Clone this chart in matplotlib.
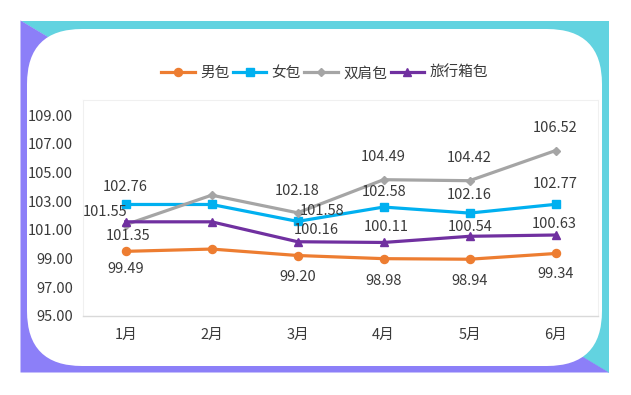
import matplotlib
matplotlib.use("Agg")
import matplotlib.pyplot as plt
from matplotlib.patches import Polygon, FancyBboxPatch

plt.rcParams['font.family'] = ['Noto Sans CJK SC', 'DejaVu Sans']

months = ['1月', '2月', '3月', '4月', '5月', '6月']
series_names = ['男包', '女包', '双肩包', '旅行箱包']
men_bag = [99.49, 99.65, 99.20, 98.98, 98.94, 99.34]
women_bag = [102.76, 102.76, 101.58, 102.58, 102.16, 102.77]
backpack = [101.35, 103.41, 102.18, 104.49, 104.42, 106.52]
luggage = [101.55, 101.55, 100.16, 100.11, 100.54, 100.63]
labeled = [True, False, True, True, True, True]
y_ticks = [95, 97, 99, 101, 103, 105, 107, 109]

colors = ['#ED7D31', '#00B0F0', '#A5A5A5', '#7030A0']
markers = ['o', 's', 'D', '^']
msizes = [5.8, 5.6, 4.2, 6.0]
text_color = '#3A3A3A'

# label offsets in pixels (dx, dy) per series per point
label_offsets = [
    [(0, -18), None, (0, -21), (0, -22), (0, -22), (0, -21)],
    [(0, 17), None, (24, 10), (0, 15), (0, 18), (0, 20)],
    [(2, -11), None, (0, 22), (0, 23), (0, 23), (0, 23)],
    [(-21, 10), None, (19, 12), (3, 15), (1, 9), (-1, 11)],
]

W, H = 631, 395
fig = plt.figure(figsize=(W / 100, H / 100), dpi=100)

# background decoration
bg = fig.add_axes([0, 0, 1, 1], zorder=-5)
bg.set_xlim(0, W)
bg.set_ylim(H, 0)
bg.axis('off')
x0, y0, x1, y1 = 20.5, 20.5, 609, 372.5
bg.add_patch(Polygon([(x0, y0), (x1, y0), (x1, y1)], closed=True,
                     facecolor='#62D3E0', edgecolor='none'))
bg.add_patch(Polygon([(x0, y0), (x1, y1), (x0, y1)], closed=True,
                     facecolor='#8C7FF8', edgecolor='none'))
bg.add_patch(FancyBboxPatch((27 + 55, 29 + 55), 602 - 27 - 110, 366 - 29 - 110,
                            boxstyle='round,pad=55',
                            facecolor='white', edgecolor='none'))

L, R, T, B = 82.7, 598.5, 100, 315.7
ax = fig.add_axes([L / W, 1 - B / H, (R - L) / W, (B - T) / H])
ax.set_facecolor('white')

x = list(range(len(months)))
all_series = [men_bag, women_bag, backpack, luggage]
handles = []
for i, vals in enumerate(all_series):
    ln, = ax.plot(x, vals, color=colors[i], lw=2.3, marker=markers[i],
                  markersize=msizes[i], markerfacecolor=colors[i],
                  markeredgecolor=colors[i], label=series_names[i], zorder=3,
                  solid_joinstyle='round')
    handles.append(ln)
    for j, v in enumerate(vals):
        off = label_offsets[i][j]
        if not labeled[j] or off is None:
            continue
        ax.annotate(f'{v:.2f}', (j, v), xytext=off, textcoords='offset pixels',
                    ha='center', va='center', fontsize=10.5, color=text_color,
                    zorder=5)

ax.set_xlim(-0.5, 5.5)
ax.set_ylim(95, 110.05)
ax.set_xticks(x)
ax.set_xticklabels(months)
ax.set_yticks(y_ticks)
ax.set_yticklabels([f'{t:.2f}' for t in y_ticks])
ax.tick_params(axis='both', length=0, labelsize=10.5, labelcolor=text_color)
ax.tick_params(axis='x', pad=9)
ax.tick_params(axis='y', pad=7)
for s in ['left', 'top', 'right']:
    ax.spines[s].set_color('#F0F0F0')
    ax.spines[s].set_linewidth(0.8)
ax.spines['bottom'].set_color('#D9D9D9')
ax.spines['bottom'].set_linewidth(1.0)

fig.legend(handles=handles, labels=series_names, loc='center',
           bbox_to_anchor=(324.5 / W, 1 - 73.3 / H), ncol=4, frameon=False,
           fontsize=10.5, handlelength=2.3, handletextpad=0.35,
           columnspacing=0.25, labelcolor=text_color)

fig.savefig('out.png', dpi=100)
